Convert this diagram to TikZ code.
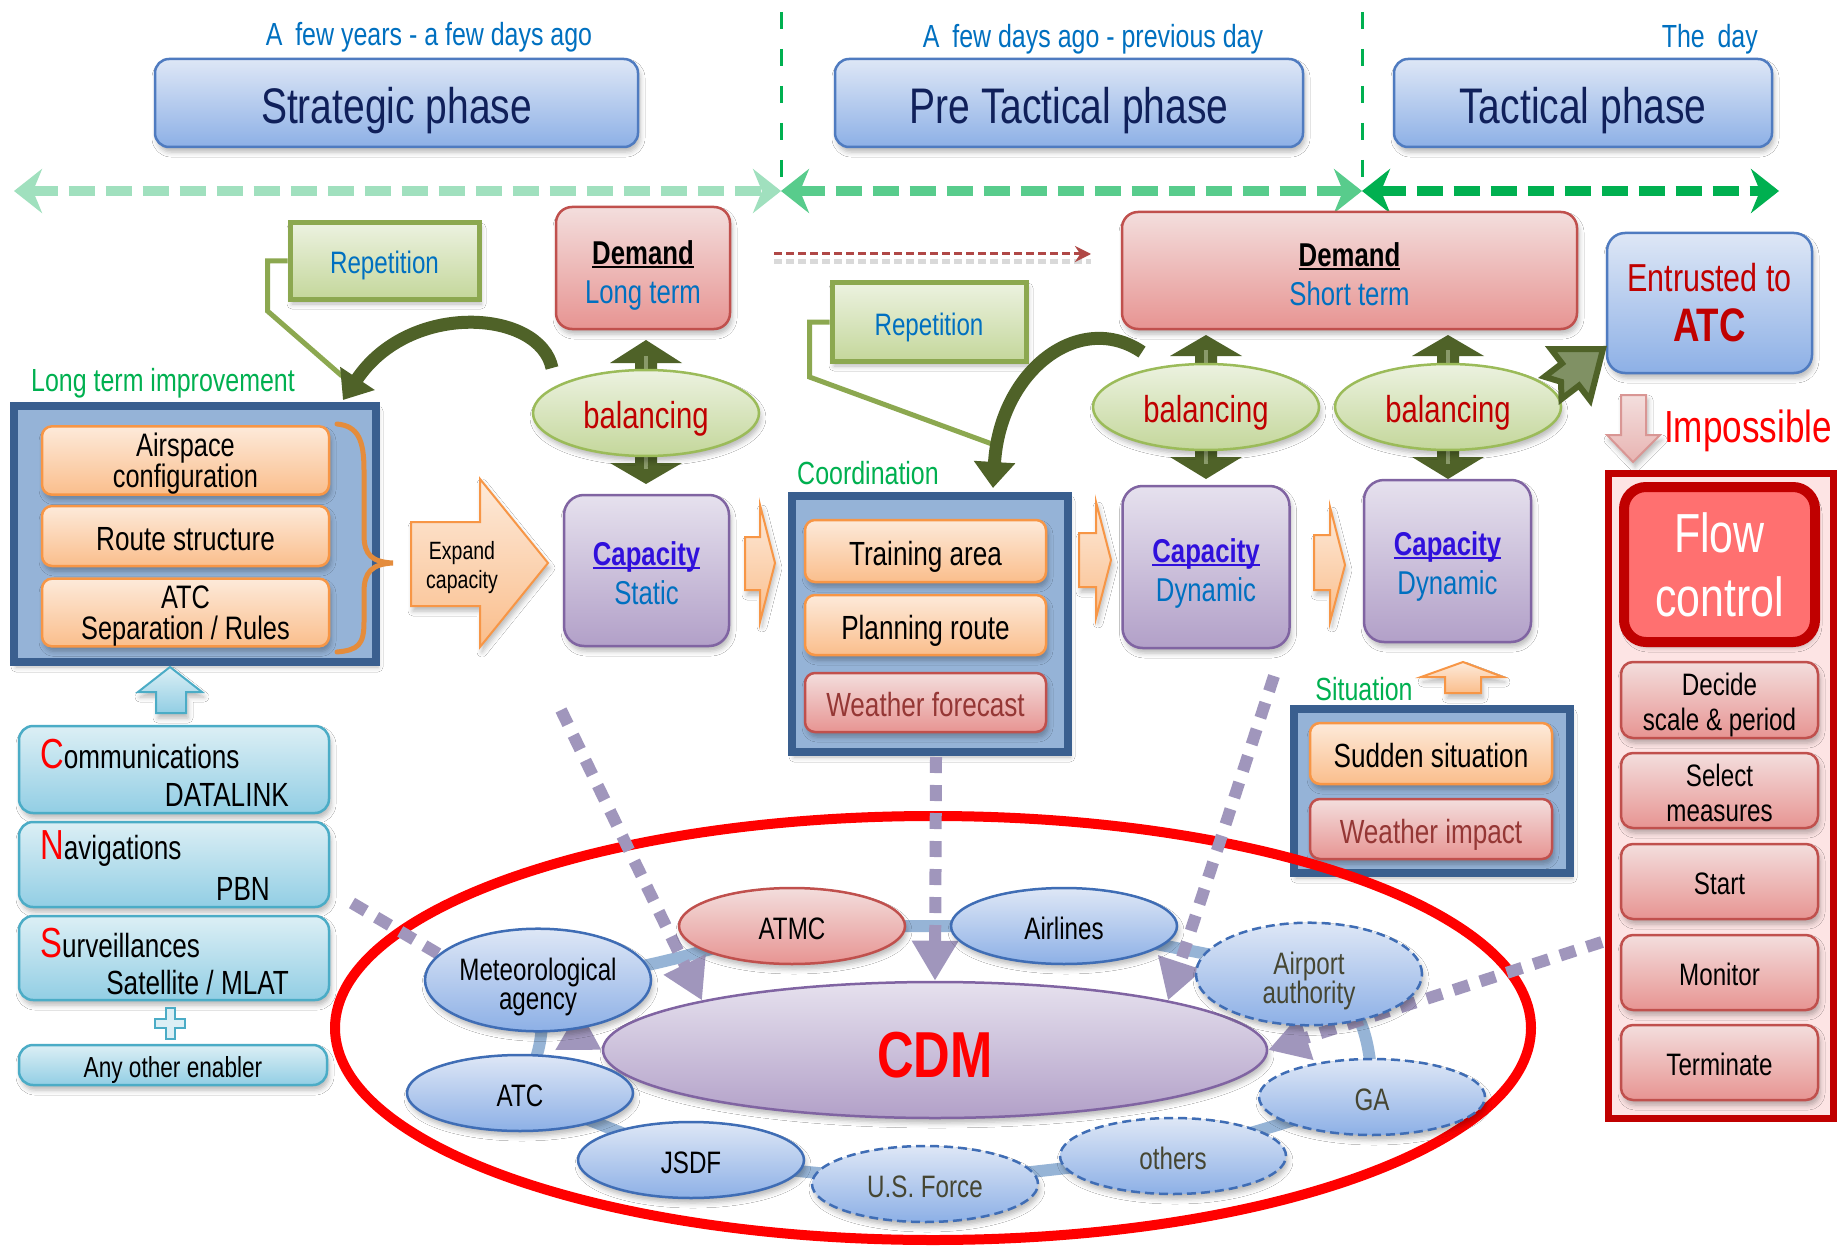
\documentclass[tikz,border=0pt]{standalone}
\usepackage{fontspec}
\setmainfont{Liberation Sans}[FakeStretch=0.78]
\usetikzlibrary{arrows.meta,shapes.geometric,shadows.blur}

% palette
\definecolor{navyink}{RGB}{16,32,90}
\definecolor{txtblue}{RGB}{0,112,192}
\definecolor{txtgreen}{RGB}{0,176,80}
\definecolor{darkred}{RGB}{192,0,0}
\definecolor{capviolet}{RGB}{48,16,220}
\definecolor{bluetop}{RGB}{222,231,246}
\definecolor{bluebot}{RGB}{141,176,230}
\definecolor{blueedge}{RGB}{79,123,192}
\definecolor{agencyedge}{RGB}{63,109,181}
\definecolor{redtop}{RGB}{243,222,221}
\definecolor{redbot}{RGB}{231,148,146}
\definecolor{rededge}{RGB}{192,80,77}
\definecolor{orgtop}{RGB}{253,234,218}
\definecolor{orgbot}{RGB}{250,190,140}
\definecolor{orgedge}{RGB}{247,150,70}
\definecolor{bracecol}{RGB}{228,140,60}
\definecolor{purtop}{RGB}{230,225,238}
\definecolor{purbot}{RGB}{178,160,200}
\definecolor{puredge}{RGB}{128,100,162}
\definecolor{grntop}{RGB}{236,242,224}
\definecolor{grnbot}{RGB}{196,215,155}
\definecolor{grnedge}{RGB}{155,187,89}
\definecolor{repedge}{RGB}{140,168,80}
\definecolor{cyantop}{RGB}{220,239,245}
\definecolor{cyanbot}{RGB}{146,206,228}
\definecolor{cyanedge}{RGB}{75,172,198}
\definecolor{olivedk}{RGB}{79,98,40}
\definecolor{olivehi}{RGB}{138,154,106}
\definecolor{olivefill}{RGB}{128,145,100}
\definecolor{boxframe}{RGB}{58,95,143}
\definecolor{framefill}{RGB}{149,179,215}
\definecolor{wine}{RGB}{149,55,53}
\definecolor{cdmline}{RGB}{160,150,188}
\definecolor{ringblue}{RGB}{150,180,214}
\definecolor{greenA}{RGB}{160,224,190}
\definecolor{greenB}{RGB}{88,204,140}
\definecolor{greenC}{RGB}{0,176,80}
\definecolor{flowfill}{RGB}{253,228,228}
\definecolor{flowred}{RGB}{255,112,112}
\definecolor{ptext}{RGB}{70,70,50}
\definecolor{dashred}{RGB}{176,72,70}
\definecolor{pinkedge}{RGB}{217,150,148}
\definecolor{pinkbot}{RGB}{232,180,178}

\newcommand\fsz[2]{\fontsize{#1}{#2}\selectfont}
% thick underline
\newcommand\thul[1]{\setbox0=\hbox{#1}\rlap{\rule[-4pt]{\wd0}{2.5pt}}\box0}
% invisible strut that sets the height of a first text line
\newcommand\lowr[1]{\rule{0pt}{#1pt}}
% vertical olive block arrow: x, shaft end y, head base y, tip y
\newcommand\olivearrow[4]{%
  \fill[olivedk] (#1,#4) -- ({#1+36},#3) -- ({#1+11},#3) -- ({#1+11},#2) -- ({#1-11},#2) -- ({#1-11},#3) -- ({#1-36},#3) -- cycle;
  \draw[olivehi, line width=4pt] (#1,#2) -- (#1,{#3+0.3*(#4-#3)});
}

\tikzset{
  softshadow/.style={blur shadow={shadow xshift=2pt, shadow yshift=-5pt, shadow blur radius=5pt, shadow opacity=28}},
  oneline/.style={text height=#1, text depth=0pt},
  phasebox/.style={softshadow, draw=blueedge, line width=2.5pt, rounded corners=14pt,
    top color=bluetop, bottom color=bluebot, text=navyink, font=\fsz{50}{56}, inner sep=0pt, oneline=42pt},
  bluebox/.style={softshadow, draw=blueedge, line width=2.5pt, rounded corners=18pt,
    top color=bluetop, bottom color=bluebot, inner sep=0pt, align=center},
  timelabel/.style={text=txtblue, font=\fsz{32}{36}, inner sep=0pt},
  greenlabel/.style={text=txtgreen, font=\fsz{32}{36}, inner sep=0pt},
  repbox/.style={softshadow, draw=repedge, line width=5pt, top color=grntop, bottom color=grnbot,
    text=txtblue, font=\fsz{31}{34}, inner sep=0pt, oneline=26pt},
  demandbox/.style={softshadow, draw=rededge, line width=2.5pt, rounded corners=16pt,
    top color=redtop, bottom color=redbot, align=center, inner sep=0pt, font=\fsz{33}{39}},
  capbox/.style={softshadow, draw=puredge, line width=2.5pt, rounded corners=20pt,
    top color=purtop, bottom color=purbot, align=center, inner sep=0pt, font=\fsz{33}{39}},
  balell/.style={softshadow, ellipse, draw=grnedge, line width=2.5pt, top color=grntop, bottom color=grnbot,
    text=darkred, font=\fsz{37.5}{40}, inner sep=0pt, minimum width=226pt, minimum height=86pt, oneline=31.5pt},
  framebox/.style={softshadow, draw=boxframe, line width=8pt, fill=framefill, inner sep=0pt},
  orgbox/.style={softshadow, draw=orgedge, line width=2.5pt, rounded corners=10pt, top color=orgtop,
    bottom color=orgbot, align=center, inner sep=0pt, font=\fsz{33.5}{31}},
  orgtwo/.style={orgbox, font=\fsz{32.5}{31}},
  winebox/.style={softshadow, draw=rededge, line width=2.5pt, rounded corners=10pt, top color=redtop,
    bottom color=redbot, text=wine, inner sep=0pt, font=\fsz{33.5}{31}, oneline=28pt},
  flowstep/.style={softshadow, draw=rededge, line width=2.5pt, rounded corners=12pt, top color=redtop,
    bottom color=redbot, align=center, inner sep=0pt, font=\fsz{31}{35}, minimum width=197pt},
  orgshape/.style={softshadow, draw=orgedge, line width=2pt, top color=orgtop, bottom color=orgbot, line join=miter},
  cyanbox/.style={softshadow, draw=cyanedge, line width=2.5pt, rounded corners=14pt, top color=cyantop,
    bottom color=cyanbot, inner sep=0pt},
  enabtext/.style={font=\fsz{33.5}{36}, inner sep=0pt},
  agency/.style={softshadow, ellipse, draw=agencyedge, line width=2.5pt, top color=bluetop, bottom color=bluebot,
    align=center, inner sep=0pt, font=\fsz{31}{29.5}, minimum width=226pt, minimum height=76pt},
  agencyopt/.style={agency, dash pattern=on 9pt off 5pt, text=ptext},
  atmcell/.style={agency, draw=rededge, top color=redtop, bottom color=redbot},
  cdmarrow/.style={draw=cdmline, line width=12pt, dash pattern=on 16pt off 12pt, -{Triangle[length=40pt,width=44pt]}},
  curlarrow/.style={draw=olivedk, line width=13pt, -{Triangle[length=26pt,width=40pt]}},
  spanline/.style={line width=10pt, dash pattern=on 26pt off 11pt,
    {Stealth[length=28pt,width=44pt,inset=9pt]}-{Stealth[length=28pt,width=44pt,inset=9pt]}},
}

\begin{document}
\begin{tikzpicture}[x=1pt,y=-1pt]
\useasboundingbox (0,0) rectangle (1841,1249);
\fill[white] (0,0) rectangle (1841,1249);

% ---------- phase separators and time spans ----------
\coordinate (sepAtop) at (781,12);  \coordinate (sepAbot) at (781,190);
\coordinate (sepBtop) at (1362,12); \coordinate (sepBbot) at (1362,190);
\draw[greenC, line width=3pt, dash pattern=on 17pt off 20pt] (sepAtop) -- (sepAbot);
\draw[greenC, line width=3pt, dash pattern=on 17pt off 20pt] (sepBtop) -- (sepBbot);

\coordinate (spanA) at (14,191);   \coordinate (spanB) at (781,191);
\coordinate (spanC) at (1362,191); \coordinate (spanD) at (1779,191);
\draw[spanline, greenA] (spanA) -- (spanB);
\draw[spanline, greenB] (spanB) -- (spanC);
\draw[spanline, greenC] (spanC) -- (spanD);

% ---------- phases ----------
\node[phasebox, minimum width=483pt, minimum height=88pt] (strat)  at (396.5,103) {Strategic phase};
\node[phasebox, minimum width=468pt, minimum height=88pt] (pretac) at (1069,103)  {Pre Tactical phase};
\node[phasebox, minimum width=378pt, minimum height=88pt] (tac)    at (1583,103)  {Tactical phase};
\node[timelabel] (timeA) at (429,37)  {A\hspace{0.4em}few years - a few days ago};
\node[timelabel] (timeB) at (1093,39) {A\hspace{0.4em}few days ago - previous day};
\node[timelabel, anchor=east] (timeC) at (1758,39) {The\hspace{0.4em}day};

% ---------- demand row ----------
\coordinate (dA) at (774,254); \coordinate (dB) at (1091,254);
\draw[black!15, line width=5pt, dash pattern=on 8pt off 4pt] ([yshift=-8pt]dA) -- ([yshift=-8pt]dB);
\draw[dashred, line width=3pt, dash pattern=on 8pt off 4pt, -{Stealth[length=16pt,width=16pt]}] (dA) -- (dB);

\node[repbox, minimum width=189pt, minimum height=76pt] (rep1) at (384.5,261) {Repetition};
\node[repbox, minimum width=194pt, minimum height=78pt] (rep2) at (929,322) {Repetition};
\coordinate (rep1end) at (342,376);
\coordinate (rep2end) at (992,444);
\draw[repedge, line width=5pt] (rep1.west) -- ++(-20,0) -- ++(0,50) -- (rep1end);
\draw[repedge, line width=5pt] (rep2.west) -- ++(-20,0) -- ++(0,55) -- (rep2end);

% olive balancing arrows
\olivearrow{646}{380}{363}{340}
\olivearrow{646}{446}{463}{484}
\olivearrow{1206}{375}{356}{335}
\olivearrow{1206}{440}{457}{479}
\olivearrow{1448}{375}{356}{335}
\olivearrow{1448}{440}{457}{479}

\node[demandbox, minimum width=174pt, minimum height=122pt] (demLT) at (643,268)
  {\lowr{38}\thul{\textbf{Demand}}\\\textcolor{txtblue}{Long term}};
\node[demandbox, minimum width=455pt, minimum height=117pt] (demST) at (1349.5,270.5)
  {\lowr{31}\thul{\textbf{Demand}}\\\textcolor{txtblue}{Short term}};
\node[bluebox, minimum width=205pt, minimum height=140pt, text=darkred, font=\fsz{39}{50}] (entr) at (1709.5,303)
  {Entrusted to\\{\fsz{47}{50}\bfseries ATC}};

\node[balell] (bal1) at (646,413)  {balancing};
\node[balell] (bal2) at (1206,407) {balancing};
\node[balell] (bal3) at (1448,407) {balancing};

% ---------- long term improvement ----------
\node[greenlabel] (ltlabel) at (163,383) {Long term improvement};
\node[framebox, minimum width=362pt, minimum height=256pt] (ltbox) at (195,534) {};
\node[orgtwo, minimum width=287pt, minimum height=61pt] (airsp) at (185.5,460.5) {\lowr{30.7}Airspace\\configuration};
\node[orgbox, minimum width=287pt, minimum height=60pt, oneline=28pt] (route) at (185.5,536) {Route structure};
\node[orgtwo, minimum width=287pt, minimum height=61pt] (sepr)  at (185.5,612.5) {\lowr{30}ATC\\Separation / Rules};
\draw[bracecol, line width=5pt, line cap=round]
  (337,424) .. controls (358,426) and (364,440) .. (364,470) -- (364,535)
  .. controls (364,555) and (372,562) .. (393,563)
  .. controls (372,564) and (364,572) .. (364,592) -- (364,622)
  .. controls (364,645) and (358,650) .. (337,652);

% expand capacity
\draw[orgshape] (411,522) -- (480,522) -- (480,479) -- (548,563) -- (480,647) -- (480,606) -- (411,606) -- cycle;
\node[font=\fsz{25}{29}, align=center, inner sep=0pt] (expandtxt) at (462,564) {\lowr{25.3}Expand\\capacity};

% ---------- capacities ----------
\node[capbox, minimum width=165pt, minimum height=151pt] (capS) at (646.5,570.5)
  {\lowr{29}\textcolor{capviolet}{\thul{\textbf{Capacity}}}\\\textcolor{txtblue}{Static}};
\node[capbox, minimum width=167pt, minimum height=162pt] (capD1) at (1206,567)
  {\lowr{36}\textcolor{capviolet}{\thul{\textbf{Capacity}}}\\\textcolor{txtblue}{Dynamic}};
\node[capbox, minimum width=167pt, minimum height=162pt] (capD2) at (1447.5,561)
  {\lowr{34}\textcolor{capviolet}{\thul{\textbf{Capacity}}}\\\textcolor{txtblue}{Dynamic}};

\draw[orgshape] (745,537) -- (760,537) -- (760,505) -- (775,563) -- (760,622) -- (760,590) -- (745,590) -- cycle;
\draw[orgshape] (1079,533) -- (1096,533) -- (1096,502) -- (1111,560) -- (1096,618) -- (1096,587) -- (1079,587) -- cycle;
\draw[orgshape] (1314,535) -- (1330,535) -- (1330,507) -- (1345,565) -- (1330,622) -- (1330,590) -- (1314,590) -- cycle;

% ---------- coordination ----------
\node[greenlabel] (coordlabel) at (868,473) {Coordination};
\node[framebox, minimum width=276pt, minimum height=256pt] (coord) at (930,624) {};
\node[orgbox, minimum width=241pt, minimum height=62pt, oneline=28pt] (train) at (925.5,551) {Training area};
\node[orgbox, minimum width=241pt, minimum height=60pt, oneline=28pt] (plan)  at (925.5,625) {Planning route};
\node[winebox, minimum width=241pt, minimum height=59pt] (wfc)  at (925.5,702.5) {Weather forecast};

% ---------- entrusted / impossible / flow control ----------
\draw[fill=olivefill, draw=olivedk, line width=6pt, line join=miter]
  (1603,349) -- (1590,400) -- (1579,385.6) -- (1561.5,399) -- (1561,381.8)
  -- (1544.5,376.8) -- (1562,363.4) -- (1551,349.1) -- cycle;

\draw[softshadow, draw=pinkedge, line width=2pt, top color=redtop, bottom color=pinkbot]
  (1621,395) -- (1646,395) -- (1646,435) -- (1660,435) -- (1633,462) -- (1607,435) -- (1621,435) -- cycle;
\node[anchor=west, text=red, font=\fsz{45}{48}, inner sep=0pt] (imp) at (1664,431) {Impossible};

\node[draw=darkred, line width=7pt, fill=flowfill, minimum width=225pt, minimum height=645pt, inner sep=0pt] (flowbox) at (1721,796) {};
\node[softshadow, draw=darkred, line width=10pt, fill=flowred, rounded corners=22pt, minimum width=191pt,
  minimum height=155pt, text=white, font=\fsz{55}{64}, align=center, inner sep=0pt] (flowctl) at (1719.5,564.5) {Flow\\control};
\node[flowstep, minimum height=76pt] (decide)  at (1719.5,700)    {\lowr{32.6}Decide\\scale \& period};
\node[flowstep, minimum height=75pt] (select)  at (1719.5,790.5)  {\lowr{27.6}Select\\measures};
\node[flowstep, minimum height=75pt, oneline=26pt] (start)   at (1719.5,881.5)  {Start};
\node[flowstep, minimum height=75pt, oneline=26pt] (monitor) at (1719.5,972.5)  {Monitor};
\node[flowstep, minimum height=75pt, oneline=26pt] (term)    at (1719.5,1062.5) {Terminate};

% ---------- situation ----------
\node[greenlabel] (sitlabel) at (1364,689) {Situation};
\draw[orgshape] (1463,662) -- (1503,677) -- (1481,677) -- (1481,693) -- (1445,693) -- (1445,677) -- (1421,677) -- cycle;
\node[framebox, minimum width=276pt, minimum height=164pt] (sitbox) at (1432,791) {};
\node[orgbox, minimum width=242pt, minimum height=61pt, oneline=28pt] (sudden) at (1431,753.5) {Sudden situation};
\node[winebox, minimum width=242pt, minimum height=60pt] (wimp)  at (1431,829) {Weather impact};

% ---------- enablers ----------
\draw[softshadow, draw=cyanedge, line width=2pt, top color=cyantop, bottom color=cyanbot]
  (170,667) -- (202,692) -- (186,692) -- (186,713) -- (156,713) -- (156,692) -- (138,692) -- cycle;
\node[cyanbox, minimum width=310pt, minimum height=87pt] (comm) at (174,769.5) {};
\node[cyanbox, minimum width=310pt, minimum height=85pt] (nav)  at (174,864.5) {};
\node[cyanbox, minimum width=310pt, minimum height=84pt] (surv) at (174,958) {};
\node[cyanbox, minimum width=308pt, minimum height=40pt, font=\fsz{29}{32}, oneline=24.4pt] (anyen) at (173,1065) {Any other enabler};
\node[enabtext, anchor=west] (commA) at (40,754) {\textcolor{red}{\fsz{42}{42}C}ommunications};
\node[enabtext, anchor=east] (commB) at (289,795) {DATALINK};
\node[enabtext, anchor=west] (navA)  at (40,849) {\textcolor{red}{\fsz{42}{42}N}avigations};
\node[enabtext, anchor=east] (navB)  at (270,889) {PBN};
\node[enabtext, anchor=west] (survA) at (40,943) {\textcolor{red}{\fsz{42}{42}S}urveillances};
\node[enabtext, anchor=east] (survB) at (289,983) {Satellite / MLAT};
\draw[draw=cyanedge, line width=2pt, fill=cyantop]
  (165.5,1008) -- (174.5,1008) -- (174.5,1018.5) -- (185,1018.5) -- (185,1027.5) -- (174.5,1027.5)
  -- (174.5,1039) -- (165.5,1039) -- (165.5,1027.5) -- (155,1027.5) -- (155,1018.5) -- (165.5,1018.5) -- cycle;

% ---------- repetition loops ----------
\coordinate (curlAs) at (552,368); \coordinate (curlAe) at (343,400);
\coordinate (curlBs) at (1142,352); \coordinate (curlBe) at (993,488);
\draw[curlarrow] (curlAs) .. controls (540,310) and (410,300) .. (curlAe);
\draw[curlarrow] (curlBs) .. controls (1080,310) and (1000,370) .. (curlBe);

% ---------- CDM ----------
\coordinate (cATMC) at (792,926);
\coordinate (cAIRL) at (1064,926);
\coordinate (cMET)  at (538,980);
\coordinate (cAIRP) at (1309,974);
\coordinate (cATC)  at (520,1093);
\coordinate (cJSDF) at (691,1160);
\coordinate (cUSF)  at (925,1184);
\coordinate (cOTH)  at (1173,1156);
\coordinate (cGA)   at (1372,1097);

\node[draw=red, line width=10pt, ellipse, minimum width=1196pt, minimum height=424pt, inner sep=0pt] (cdmloop) at (933,1028) {};
% the chain of partners around CDM
\draw[ringblue, line width=12pt, line join=round]
  (cATC) .. controls (545,1050) and (545,1020) .. (cMET)
  .. controls (640,975) and (720,945) .. (cATMC) -- (cAIRL) -- (cAIRP)
  .. controls (1360,990) and (1372,1040) .. (cGA) -- (cOTH) -- (cUSF) -- (cJSDF) -- cycle;
\node[softshadow, ellipse, draw=puredge, line width=2.5pt, top color=purtop, bottom color=purbot,
  minimum width=664pt, minimum height=136pt, inner sep=0pt, text=red, font=\fsz{65}{70}\bfseries, oneline=54.6pt] (cdm) at (935,1050) {CDM};

\coordinate (fromEnab)  at (352,903);
\coordinate (fromCapS)  at (561,710);
\coordinate (fromCoord) at (936,757);
\coordinate (fromCapD)  at (1274,676);
\coordinate (fromFlow)  at (1602,942);
\draw[cdmarrow] (fromEnab)  -- (cdm.west);
\draw[cdmarrow] (fromCapS)  -- (cdm.168);
\draw[cdmarrow] (fromCoord) -- (cdm.north);
\draw[cdmarrow] (fromCapD)  -- (cdm.12);
\draw[cdmarrow] (fromFlow)  -- (cdm.east);

\node[atmcell, oneline=26pt]   (atmc) at (cATMC) {ATMC};
\node[agency, oneline=26pt]    (airl) at (cAIRL) {Airlines};
\node[agency]                  (met)  at (cMET)  {\lowr{36.6}Meteorological\\agency};
\node[agencyopt]               (airp) at (cAIRP) {\lowr{36.6}Airport\\authority};
\node[agency, oneline=26pt]    (atc)  at (cATC)  {ATC};
\node[agency, oneline=26pt]    (jsdf) at (cJSDF) {JSDF};
\node[agencyopt, oneline=26pt] (usf)  at (cUSF)  {U.S. Force};
\node[agencyopt, oneline=26pt] (oth)  at (cOTH)  {others};
\node[agencyopt, oneline=26pt] (ga)   at (cGA)   {GA};
\end{tikzpicture}
\end{document}
